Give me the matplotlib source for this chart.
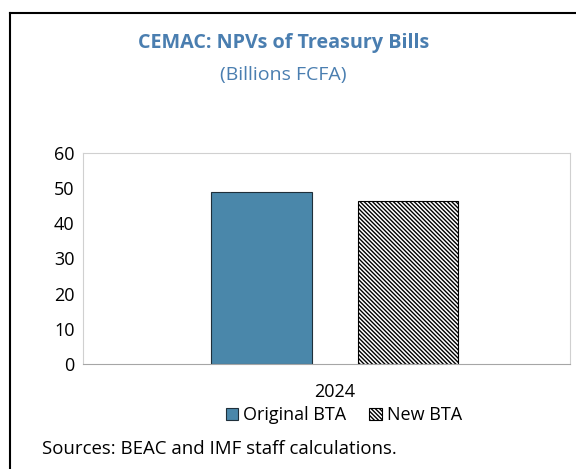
import matplotlib.pyplot as plt

plt.rcParams['font.family'] = ['Open Sans', 'DejaVu Sans']
plt.rcParams['hatch.linewidth'] = 1.0

# data
categories = ['2024']
series = ['Original BTA', 'New BTA']
original_bta = [48.9]
new_bta = [46.3]

title_color = '#4a7eb0'
bar_color = '#4a87aa'

fig = plt.figure(figsize=(5.76, 4.69), dpi=100)
ax = fig.add_axes([0.144, 0.224, 0.846, 0.450])

w = 0.207
ax.bar([-0.15], original_bta, width=w, color=bar_color, edgecolor='#1f2f3a',
       linewidth=0.8, label=series[0])
ax.bar([0.15], new_bta, width=w, color='white', edgecolor='black',
       hatch='\\\\\\\\\\\\\\\\', linewidth=0.8, label=series[1])

ax.set_xlim(-0.517, 0.483)
ax.set_ylim(0, 60)
ax.set_yticks(range(0, 61, 10))
ax.set_xticks([0])
ax.set_xticklabels(categories)
ax.tick_params(length=0, labelsize=13, pad=6)
ax.tick_params(axis='x', pad=14)
for s in ['left', 'top', 'right']:
    ax.spines[s].set_color('#d0d0d0')
ax.spines['bottom'].set_color('#a6a6a6')

ax.legend(loc='upper center', bbox_to_anchor=(0.535, -0.158), ncol=2, frameon=False,
          fontsize=13, handlelength=0.7, handleheight=0.7, handletextpad=0.25,
          columnspacing=1.3, borderpad=0)

fig.text(0.492, 0.908, 'CEMAC: NPVs of Treasury Bills', ha='center', va='center',
         fontsize=14.2, fontweight='bold', color=title_color)
fig.text(0.492, 0.840, '(Billions FCFA)', ha='center', va='center',
         fontsize=14, color=title_color)
fig.text(0.073, 0.042, 'Sources: BEAC and IMF staff calculations.', ha='left',
         va='center', fontsize=13.4)

# frame around the figure (left and top)
fig.add_artist(plt.Line2D([0.018, 0.018], [0, 0.972], color='black', lw=1.5,
                          transform=fig.transFigure))
fig.add_artist(plt.Line2D([0.018, 1.0], [0.972, 0.972], color='black', lw=1.5,
                          transform=fig.transFigure))

fig.savefig('out.png', dpi=100)
